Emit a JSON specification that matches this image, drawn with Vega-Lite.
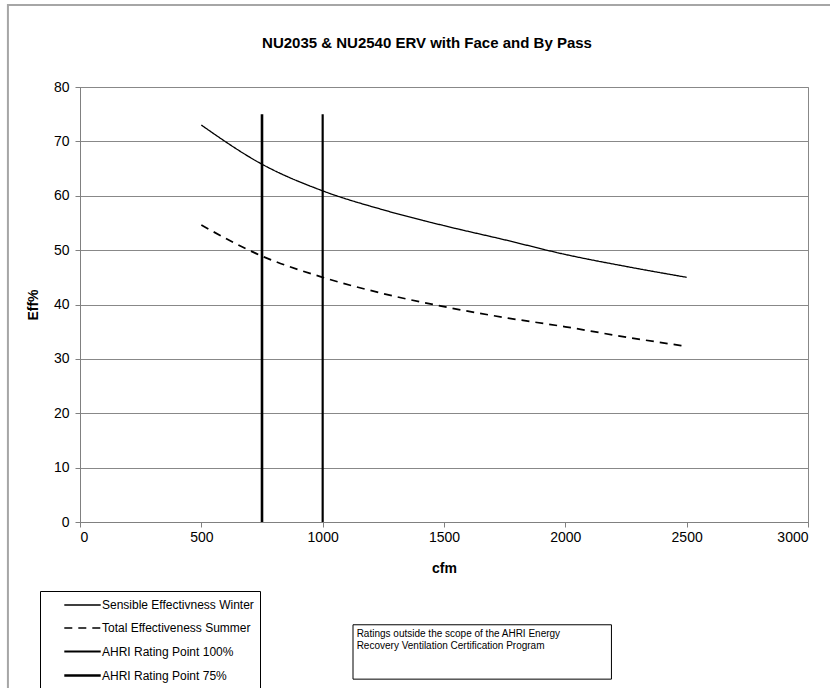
{
  "$schema": "https://vega.github.io/schema/vega-lite/v6.json",
  "width": 728,
  "height": 435,
  "autosize": {"type": "none"},
  "padding": {"left": 80, "top": 87, "right": 22, "bottom": 166},
  "background": "white",
  "title": {
    "text": "NU2035 & NU2540 ERV with Face and By Pass",
    "font": "Liberation Sans",
    "fontSize": 15,
    "fontWeight": "bold",
    "color": "black",
    "anchor": "middle",
    "offset": -47,
    "dx": -17
  },
  "config": {
    "font": "Liberation Sans",
    "view": {"stroke": "#888888", "strokeWidth": 1}
  },
  "datasets": {
    "curves": [
      {"series": "Sensible Effectivness Winter", "cfm": 500, "eff": 73.0},
      {"series": "Sensible Effectivness Winter", "cfm": 750, "eff": 65.8},
      {"series": "Sensible Effectivness Winter", "cfm": 1000, "eff": 60.9},
      {"series": "Sensible Effectivness Winter", "cfm": 1250, "eff": 57.4},
      {"series": "Sensible Effectivness Winter", "cfm": 1500, "eff": 54.5},
      {"series": "Sensible Effectivness Winter", "cfm": 1750, "eff": 51.9},
      {"series": "Sensible Effectivness Winter", "cfm": 2000, "eff": 49.2},
      {"series": "Sensible Effectivness Winter", "cfm": 2250, "eff": 47.0},
      {"series": "Sensible Effectivness Winter", "cfm": 2500, "eff": 45.0},
      {"series": "Total Effectiveness Summer", "cfm": 500, "eff": 54.6},
      {"series": "Total Effectiveness Summer", "cfm": 750, "eff": 48.9},
      {"series": "Total Effectiveness Summer", "cfm": 1000, "eff": 45.0},
      {"series": "Total Effectiveness Summer", "cfm": 1250, "eff": 42.0},
      {"series": "Total Effectiveness Summer", "cfm": 1500, "eff": 39.6},
      {"series": "Total Effectiveness Summer", "cfm": 1750, "eff": 37.6},
      {"series": "Total Effectiveness Summer", "cfm": 2000, "eff": 35.9},
      {"series": "Total Effectiveness Summer", "cfm": 2250, "eff": 34.0},
      {"series": "Total Effectiveness Summer", "cfm": 2500, "eff": 32.3}
    ],
    "rules": [
      {"series": "AHRI Rating Point 100%", "cfm": 1000, "lo": 0, "hi": 75},
      {"series": "AHRI Rating Point 75%", "cfm": 750, "lo": 0, "hi": 75}
    ],
    "note": [
      {"text": "Ratings outside the scope of the AHRI Energy\nRecovery Ventilation Certification Program"}
    ]
  },
  "layer": [
    {
      "data": {"name": "note"},
      "mark": {"type": "rect", "fill": null, "fillOpacity": 0, "stroke": "#a6a6a6", "strokeWidth": 2},
      "encoding": {
        "x": {"datum": -297, "type": "quantitative"},
        "x2": {"datum": 3120},
        "y": {"datum": 95.1, "type": "quantitative"},
        "y2": {"datum": -33}
      }
    },
    {
      "data": {"name": "curves"},
      "mark": {"type": "line", "color": "black", "interpolate": "monotone"},
      "encoding": {
        "x": {
          "field": "cfm", "type": "quantitative",
          "scale": {"domain": [0, 3000], "nice": false},
          "axis": {
            "title": "cfm", "values": [0, 500, 1000, 1500, 2000, 2500, 3000], "format": "d",
            "grid": false, "domainColor": "#808080", "tickColor": "#808080", "tickSize": 5,
            "labelFontSize": 14, "labelColor": "black", "labelPadding": 3,
            "titleFontSize": 14, "titleFontWeight": "bold", "titleColor": "black", "titlePadding": 17
          }
        },
        "y": {
          "field": "eff", "type": "quantitative",
          "scale": {"domain": [0, 80], "nice": false},
          "axis": {
            "title": "Eff%", "values": [0, 10, 20, 30, 40, 50, 60, 70, 80], "format": "d",
            "grid": true, "gridColor": "#888888", "gridWidth": 1,
            "domainColor": "#808080", "tickColor": "#808080", "tickSize": 5,
            "labelFontSize": 14, "labelColor": "black", "labelPadding": 6,
            "titleFontSize": 14, "titleFontWeight": "bold", "titleColor": "black", "titlePadding": 13
          }
        },
        "detail": {"field": "series"},
        "strokeDash": {
          "field": "series", "type": "nominal",
          "scale": {
            "domain": ["Sensible Effectivness Winter", "Total Effectiveness Summer", "AHRI Rating Point 100%", "AHRI Rating Point 75%"],
            "range": [[1, 0], [8, 6], [1, 0], [1, 0]]
          },
          "legend": {
            "title": null, "orient": "none", "legendX": -40, "legendY": 504,
            "symbolType": "M-2.6,0H2.6", "symbolSize": 196, "symbolStrokeColor": "black", "symbolFillColor": "transparent",
            "labelFontSize": 12, "labelColor": "black", "labelOffset": 11,
            "strokeColor": "black", "fillColor": "white", "padding": 6,
            "symbolOffset": 28, "rowPadding": 9
          }
        },
        "strokeWidth": {
          "field": "series", "type": "nominal",
          "scale": {
            "domain": ["Sensible Effectivness Winter", "Total Effectiveness Summer", "AHRI Rating Point 100%", "AHRI Rating Point 75%"],
            "range": [1.3, 2.6, 2.4, 4]
          },
          "legend": {
            "title": null, "orient": "none", "legendX": -40, "legendY": 504,
            "symbolType": "M-2.6,0H2.6", "symbolSize": 196, "symbolStrokeColor": "black", "symbolFillColor": "transparent",
            "labelFontSize": 12, "labelColor": "black", "labelOffset": 11,
            "strokeColor": "black", "fillColor": "white", "padding": 6,
            "symbolOffset": 28, "rowPadding": 9
          }
        }
      }
    },
    {
      "data": {"name": "rules"},
      "mark": {"type": "rule", "color": "black"},
      "encoding": {
        "x": {"field": "cfm", "type": "quantitative"},
        "y": {"field": "lo", "type": "quantitative"},
        "y2": {"field": "hi"},
        "strokeDash": {"field": "series", "type": "nominal"},
        "strokeWidth": {"field": "series", "type": "nominal"}
      }
    },
    {
      "data": {"name": "note"},
      "mark": {"type": "rect", "fill": "white", "stroke": "black", "strokeWidth": 1},
      "encoding": {
        "x": {"datum": 1125, "type": "quantitative"},
        "x2": {"datum": 2190},
        "y": {"datum": -18.9, "type": "quantitative"},
        "y2": {"datum": -28.9}
      }
    },
    {
      "data": {"name": "note"},
      "mark": {"type": "text", "align": "left", "baseline": "top", "fontSize": 10, "lineHeight": 12, "lineBreak": "\n", "color": "black"},
      "encoding": {
        "x": {"datum": 1140, "type": "quantitative"},
        "y": {"datum": -19.6, "type": "quantitative"},
        "text": {"field": "text"}
      }
    }
  ]
}
